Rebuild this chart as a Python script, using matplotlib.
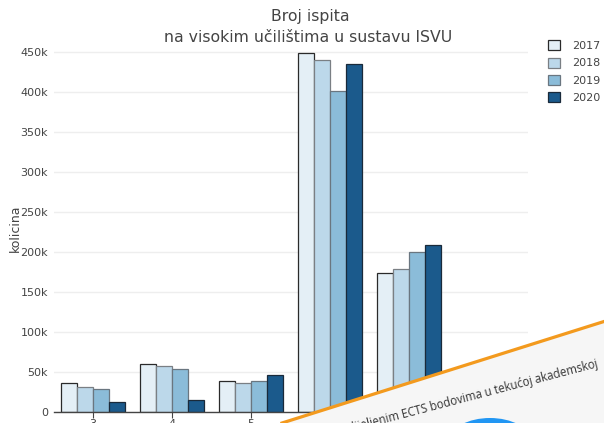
import matplotlib
matplotlib.use("Agg")
import matplotlib.pyplot as plt
import numpy as np
from matplotlib.patches import Polygon, Ellipse
from matplotlib.lines import Line2D

plt.rcParams['font.family'] = ['DejaVu Sans']

categories = ['3', '4', '5', '6', '7']
years = ['2017', '2018', '2019', '2020']
v2017 = [36300, 60400, 39600, 448800, 174000]
v2018 = [31300, 58300, 36300, 440500, 179500]
v2019 = [29200, 54200, 38800, 402000, 200000]
v2020 = [13300, 15400, 47100, 436000, 208700]
series = [v2017, v2018, v2019, v2020]
colors = ['#e4eff6', '#bcd8ea', '#8bbcd9', '#1b5a8c']
edges = ['#2a2a2a', '#7a7f84', '#6a7680', '#1a2a3a']
yticks = [0, 50000, 100000, 150000, 200000, 250000, 300000, 350000, 400000, 450000]
ytick_labels = ['0', '50k', '100k', '150k', '200k', '250k', '300k', '350k', '400k', '450k']

W, H = 604, 423
fig = plt.figure(figsize=(W / 100, H / 100), dpi=100)
left, right = 53.5, 527.5
top_px, bot_px = 44.3, 412.3
ax = fig.add_axes([left / W, 1 - bot_px / H, (right - left) / W, (bot_px - top_px) / H])

x = np.arange(len(categories))
bw = 0.2
for i, (vals, c, e) in enumerate(zip(series, colors, edges)):
    ax.bar(x + (i - 1.5) * bw, vals, width=bw, color=c, edgecolor=e, linewidth=0.9,
           label=years[i], zorder=3)

ax.set_xlim(-0.5, 5.5)
ax.set_ylim(0, 460000)
ax.set_yticks(yticks)
ax.set_yticklabels(ytick_labels, fontsize=8, color='#444444')
ax.set_xticks(x)
ax.set_xticklabels(categories, fontsize=8, color='#444444')
ax.tick_params(axis='y', length=0, pad=4)
ax.tick_params(axis='x', length=4, color='#444444', width=0.8, pad=1)
ax.grid(axis='y', color='#eeeeee', linewidth=1, zorder=0)
ax.set_axisbelow(True)
for s in ['top', 'right', 'left']:
    ax.spines[s].set_visible(False)
ax.spines['bottom'].set_color('#444444')
ax.spines['bottom'].set_linewidth(1)
ax.spines['bottom'].set_zorder(4)
ax.set_ylabel('kolicina', fontsize=9, color='#444444')
ax.yaxis.set_label_coords((22 - left) / (right - left), 0.5)

fig.text(310 / W, 1 - 17 / H, 'Broj ispita', ha='center', va='center', fontsize=11.3, color='#444444')
fig.text(308 / W, 1 - 37 / H, 'na visokim učilištima u sustavu ISVU', ha='center', va='center',
         fontsize=11.3, color='#444444')

leg = fig.legend(loc='upper left', bbox_to_anchor=(544 / W, 1 - 36 / H), frameon=False,
                 fontsize=8, handlelength=1.0, handleheight=1.0, handletextpad=1.1,
                 labelspacing=0.58, borderaxespad=0)
for t in leg.get_texts():
    t.set_color('#444444')

# overlay: tilted page from a screenshot
def fp(px, py):
    return (px / W, 1 - py / H)

poly = Polygon([fp(282, 423), fp(604, 321.5), fp(604, 423)], closed=True,
               transform=fig.transFigure, facecolor='#f6f6f6', edgecolor='none', zorder=10)
fig.add_artist(poly)
fig.add_artist(Line2D([282 / W, 1.0], [0.0, 1 - 321.5 / H], transform=fig.transFigure,
                      color='#f39a1e', linewidth=2.3, zorder=12))
ell = Ellipse(fp(490, 440), 80 / W, 44 / H, transform=fig.transFigure,
              facecolor='#2196f3', edgecolor='none', zorder=11)
fig.add_artist(ell)
ell.set_clip_path(poly)
txt = fig.text(599 / W, 1 - 367 / H, 'pridijeljenim ECTS bodovima u tekućoj akademskoj',
               ha='right', va='baseline', rotation=14.7, rotation_mode='anchor',
               fontsize=8.3, color='#333333', zorder=11, family=['Open Sans', 'DejaVu Sans'])
txt.set_clip_path(poly)

fig.savefig('out.png', dpi=100)
